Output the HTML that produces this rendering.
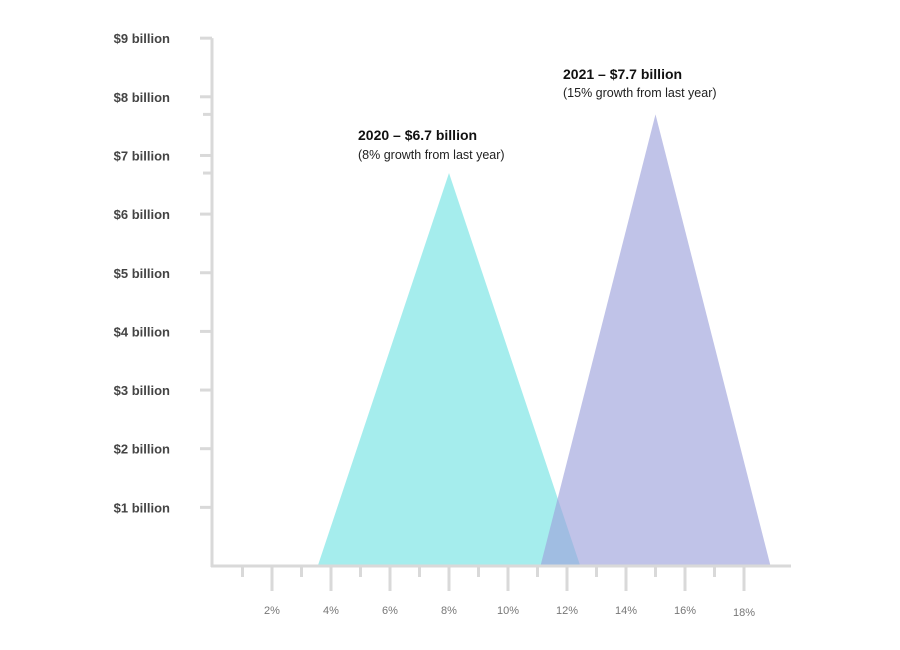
<!DOCTYPE html>
<html><head><meta charset="utf-8"><style>
html,body{margin:0;padding:0;background:#fff;}
svg{display:block;font-family:"Liberation Sans",sans-serif;}
</style></head><body>
<svg id="chart" width="900" height="650" viewBox="0 0 900 650"></svg>
<script>
const years = ["2020", "2021"];
const growthPct = [8, 15];
const revenueBn = [6.7, 7.7];
const baseLeftPct = [3.55, 11.1];
const baseRightPct = [12.45, 18.9];
const titles = ["2020 – $6.7 billion", "2021 – $7.7 billion"];
const subtitles = ["(8% growth from last year)", "(15% growth from last year)"];
const yTicks = [1,2,3,4,5,6,7,8,9];
const yTickLabels = ["$1 billion","$2 billion","$3 billion","$4 billion","$5 billion","$6 billion","$7 billion","$8 billion","$9 billion"];
const xMajor = [2,4,6,8,10,12,14,16,18];
const xMajorLabels = ["2%","4%","6%","8%","10%","12%","14%","16%","18%"];
const xMinor = [1,3,5,7,9,11,13,15,17];

const NS = "http://www.w3.org/2000/svg";
const svg = document.getElementById("chart");
const X0 = 213, XS = 29.5, Y0 = 566, YS = 58.65;
const x = v => X0 + v * XS;
const y = v => Y0 - v * YS;
function mk(tag, attrs, parent) {
  const e = document.createElementNS(NS, tag);
  for (const k in attrs) e.setAttribute(k, attrs[k]);
  (parent || svg).appendChild(e);
  return e;
}
const fills = ["#a5eded", "rgb(157,162,219)"];
const ops = ["1", "0.644"];
years.forEach((yr, i) => {
  const p = mk("polygon", {points: `${x(baseLeftPct[i])},${y(0)} ${x(growthPct[i])},${y(revenueBn[i])} ${x(baseRightPct[i])},${y(0)}`, fill: fills[i], "fill-opacity": ops[i]});
  
  
});
const ya = mk("line", {x1: 212, y1: y(9), x2: 212, y2: Y0 + 1, stroke: "#d9d9d9", "stroke-width": 3});
 
const xa = mk("line", {x1: 211, y1: Y0, x2: 791, y2: Y0, stroke: "#d9d9d9", "stroke-width": 3});
 
yTicks.forEach((t, i) => {
  const l = mk("line", {x1: 200, y1: y(t), x2: 212, y2: y(t), stroke: "#d9d9d9", "stroke-width": 3});
   
  const tx = mk("text", {x: 170, y: y(t) + 5, "text-anchor": "end", "font-size": 13, "font-weight": "600", fill: "#444"});
  tx.textContent = yTickLabels[i];
   
});
revenueBn.forEach(v => {
  const l = mk("line", {x1: 203, y1: y(v), x2: 212, y2: y(v), stroke: "#d9d9d9", "stroke-width": 3});
   
});
xMajor.forEach((t, i) => {
  const l = mk("line", {x1: x(t), y1: Y0, x2: x(t), y2: 591, stroke: "#d9d9d9", "stroke-width": 3});
   
  const tx = mk("text", {x: x(t), y: t === 18 ? 616 : 614, "text-anchor": "middle", "font-size": 11, fill: "#777"});
  tx.textContent = xMajorLabels[i];
   
});
xMinor.forEach(t => {
  const l = mk("line", {x1: x(t), y1: Y0, x2: x(t), y2: 577, stroke: "#d9d9d9", "stroke-width": 3});
   
});
const labelPos = [[358, 140, 159], [563, 79, 97]];
years.forEach((yr, i) => {
  const t = mk("text", {x: labelPos[i][0], y: labelPos[i][1], "font-size": 14, "font-weight": "bold", fill: "#111"});
  t.textContent = titles[i];
   
  const s = mk("text", {x: labelPos[i][0], y: labelPos[i][2], "font-size": 12.5, "font-weight": "500", fill: "#222"});
  s.textContent = subtitles[i];
   
});
</script>
</body></html>
